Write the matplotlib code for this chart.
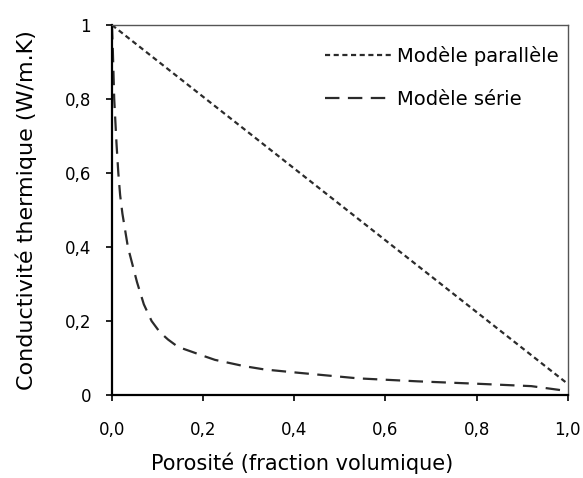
import matplotlib
matplotlib.use('Agg')
import matplotlib.pyplot as plt

# porosity (fraction volumique) and conductivity
porosity_par = [0.0, 1.0]
k_par = [1.0, 0.03]

porosity_ser = [0.0, 0.002, 0.005, 0.01, 0.014, 0.018, 0.023, 0.035, 0.055, 0.07,
                0.087, 0.105, 0.123, 0.145, 0.175, 0.2, 0.226, 0.29, 0.335, 0.41,
                0.54, 0.67, 0.81, 0.92, 0.98, 1.0]
k_ser = [1.0, 0.93, 0.80, 0.68, 0.60, 0.54, 0.49, 0.40, 0.305, 0.245,
         0.20, 0.17, 0.15, 0.13, 0.117, 0.106, 0.095, 0.078, 0.069, 0.060,
         0.045, 0.037, 0.030, 0.024, 0.014, 0.01]

x_ticks = [0.0, 0.2, 0.4, 0.6, 0.8, 1.0]
x_labels = ['0,0', '0,2', '0,4', '0,6', '0,8', '1,0']
y_ticks = [0, 0.2, 0.4, 0.6, 0.8, 1.0]
y_labels = ['0', '0,2', '0,4', '0,6', '0,8', '1']

fig = plt.figure(figsize=(5.83, 4.78), dpi=100)
ax = fig.add_axes([0.192, 0.1736, 0.782, 0.7741])

col = '#2b2b2b'
ax.plot(porosity_par, k_par, color=col, lw=1.6, dashes=(2.3, 1.6), label='Modèle parallèle')
ax.plot(porosity_ser, k_ser, color=col, lw=1.6, dashes=(6.5, 3.8), label='Modèle série')

ax.set_xlim(0, 1)
ax.set_ylim(0, 1)
ax.set_xticks(x_ticks)
ax.set_xticklabels(x_labels, fontsize=12)
ax.set_yticks(y_ticks)
ax.set_yticklabels(y_labels, fontsize=12)
ax.tick_params(direction='out', length=4, width=1.2)
ax.tick_params(axis='y', pad=11)
ax.tick_params(axis='x', pad=15)
for side in ['left', 'bottom']:
    ax.spines[side].set_linewidth(1.6)
for side in ['top', 'right']:
    ax.spines[side].set_linewidth(1.0)
    ax.spines[side].set_color('#555555')

ax.set_xlabel('Porosité (fraction volumique)', fontsize=15, labelpad=12)
ax.xaxis.set_label_coords(0.417, -0.155)
ax.set_ylabel('Conductivité thermique (W/m.K)', fontsize=16, labelpad=20)

ax.legend(loc='upper right', bbox_to_anchor=(1.005, 0.975), frameon=False,
          fontsize=14, handlelength=3.4, handletextpad=0.3, labelspacing=1.25,
          borderaxespad=0.2)

fig.savefig('out.png', dpi=100)
